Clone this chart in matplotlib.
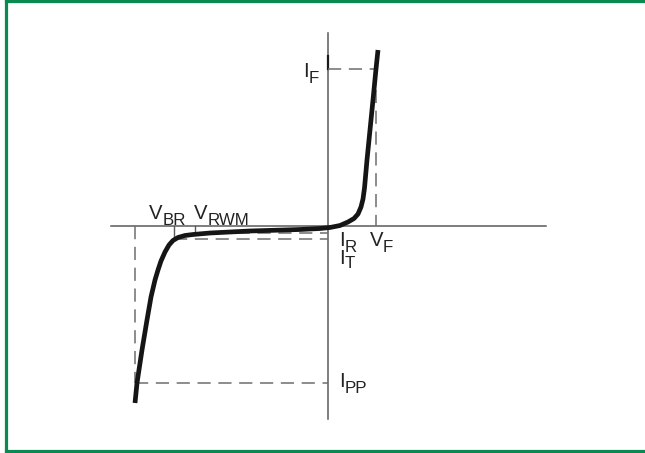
import matplotlib
matplotlib.use("Agg")
import matplotlib.pyplot as plt
from matplotlib.lines import Line2D

plt.rcParams['font.family'] = ['Liberation Sans', 'DejaVu Sans']
plt.rcParams['lines.scale_dashes'] = False

# diode I-V curve (arbitrary units, origin at the axes crossing)
volts = [-19.3, -19.1, -18.6, -18.1, -17.7, -17.3, -17.0, -16.7, -16.3, -15.9,
         -15.5, -15.0, -14.3, -13.5, -11.8, -7.8, -2.8, -0.8, 0.2, 1.2,
         2.0, 2.6, 3.0, 3.3, 3.5, 3.65, 3.9, 4.2, 4.5, 4.8, 5.0]
amps = [-17.7, -15.7, -12.4, -9.4, -7.1, -5.4, -4.4, -3.5, -2.6, -1.9,
        -1.45, -1.15, -0.95, -0.85, -0.7, -0.5, -0.35, -0.25, -0.15, 0.05,
        0.4, 0.75, 1.2, 1.9, 2.7, 3.8, 6.6, 9.6, 12.6, 15.7, 17.6]

# characteristic points
V_F, I_F = 4.8, 15.7
V_BR, V_RWM, V_C = -15.4, -13.3, -19.3
I_R, I_T, I_PP = -0.7, -1.25, -15.7
x_axis = (-21.7, 21.8)
y_axis = (-19.3, 19.3)

fig = plt.figure(figsize=(6.45, 4.53), dpi=100)
ax = fig.add_axes([0, 0, 1, 1])
ax.set_xlim(-32.8, 31.7)
ax.set_ylim(-22.7, 22.6)
ax.axis('off')

axis_col = '#5a5a5a'
dash_col = '#6e6e6e'
txt_col = '#222222'

# axes
ax.plot(x_axis, [0, 0], color=axis_col, lw=1.1)
ax.plot([0, 0], y_axis, color=axis_col, lw=1.1)
ax.plot([0, 0], [I_F, I_F + 1.3], color='#1a1a1a', lw=1.6)

# dashed guides
dkw = dict(color=dash_col, lw=1.1, dashes=(9.5, 5.5))
ax.plot([0, V_F], [I_F, I_F], **dkw)
ax.plot([V_F, V_F], [I_F, 0], **dkw)
ax.plot([V_C, V_C], [0, I_PP], **dkw)
ax.plot([V_C, 0], [I_PP, I_PP], **dkw)
ax.plot([V_RWM, 0], [I_R, I_R], **dkw)
ax.plot([V_BR, 0], [I_T, I_T], **dkw)

# small ticks for V_BR and V_RWM
ax.plot([V_BR, V_BR], [0, I_T], color=axis_col, lw=1.0)
ax.plot([V_RWM, V_RWM], [0, I_R], color=axis_col, lw=1.0)

# the curve
ax.plot(volts, amps, color='#151515', lw=3.4, solid_capstyle='butt',
        solid_joinstyle='round')

renderer = fig.canvas.get_renderer()


def label(x, y, main, sub, drop=4.3):
    t = ax.text(x, y, main, fontsize=14.6, color=txt_col,
                ha='left', va='baseline')
    w = t.get_window_extent(renderer).width * 72 / fig.dpi
    ax.annotate(sub, xy=(x, y), xytext=(w - 0.2, -drop),
                textcoords='offset points', fontsize=12.2, color=txt_col,
                ha='left', va='baseline')


label(-2.5, 14.9, 'I', 'F')
label(-17.9, 0.7, 'V', 'BR')
label(-13.4, 0.7, 'V', 'RWM')
label(1.15, -2.0, 'I', 'R')
label(1.15, -3.8, 'I', 'T', drop=3.0)
label(4.15, -2.0, 'V', 'F')
label(1.15, -16.1, 'I', 'PP')

# green frame
green = '#0a8a50'
fig.add_artist(Line2D([5.5 / 645, 5.5 / 645], [0, 1], color=green, lw=2.3,
                      transform=fig.transFigure))
fig.add_artist(Line2D([5.5 / 645, 1], [1 - 1.2 / 453, 1 - 1.2 / 453],
                      color=green, lw=2.3, transform=fig.transFigure))
fig.add_artist(Line2D([5.5 / 645, 1], [1.6 / 453, 1.6 / 453], color=green,
                      lw=2.3, transform=fig.transFigure))

fig.savefig('out.png', dpi=100)
